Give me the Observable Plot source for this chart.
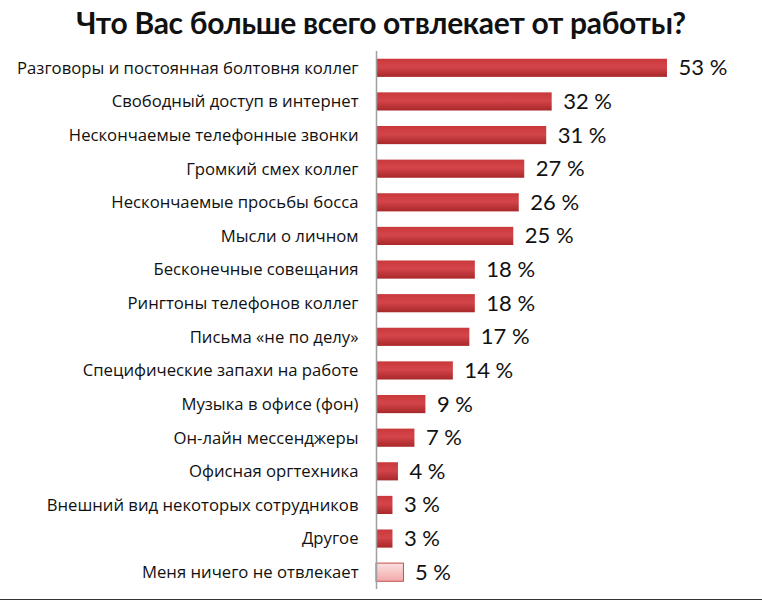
<!DOCTYPE html>
<html><head><meta charset="utf-8">
<script src="https://cdn.jsdelivr.net/npm/d3@7"></script>
<script src="https://cdn.jsdelivr.net/npm/@observablehq/plot@0.6"></script>
<style>
body{margin:0;background:#fff;}
#title{height:46px;line-height:44px;text-align:center;font-family:Lato,sans-serif;font-weight:bold;font-size:30px;color:#111;letter-spacing:-0.3px;overflow:hidden;white-space:nowrap;}
#chart{border-bottom:1px solid #333;width:762px;}
</style></head><body>
<div id="title">Что Вас больше всего отвлекает от работы?</div>
<div id="chart"></div>
<script>
const categories = [
  "Разговоры и постоянная болтовня коллег",
  "Свободный доступ в интернет",
  "Нескончаемые телефонные звонки",
  "Громкий смех коллег",
  "Нескончаемые просьбы босса",
  "Мысли о личном",
  "Бесконечные совещания",
  "Рингтоны телефонов коллег",
  "Письма «не по делу»",
  "Специфические запахи на работе",
  "Музыка в офисе (фон)",
  "Он-лайн мессенджеры",
  "Офисная оргтехника",
  "Внешний вид некоторых сотрудников",
  "Другое",
  "Меня ничего не отвлекает"
];
const values = [53, 32, 31, 27, 26, 25, 18, 18, 17, 14, 9, 7, 4, 3, 3, 5];
const groups = ["d","d","d","d","d","d","d","d","d","d","d","d","d","d","d","n"];

const data = categories.map((c, i) => ({cat: c, v: values[i], g: groups[i]}));

const chart = Plot.plot({
  width: 762,
  height: 553,
  marginLeft: 376,
  marginRight: 95,
  marginTop: 5,
  marginBottom: 10,
  style: {fontFamily: "'Open Sans', sans-serif", background: "#fff"},
  x: {domain: [0, 53], axis: null},
  y: {domain: categories, paddingInner: 0.46, paddingOuter: 0.23, round: false, label: null, axis: null},
  marks: [
    Plot.barX(data, {x: "v", y: "cat", fill: d => d.g === "n" ? "url(#gPink)" : "url(#gRed)", stroke: d => d.g === "n" ? "#c0504d" : "none", strokeWidth: 1}),
    Plot.ruleX([0], {stroke: "#a0a0a0", strokeWidth: 1.5}),
    Plot.text(data, {x: "v", y: "cat", text: d => d.v + " %", textAnchor: "start", dx: 11, fontSize: 22, fontFamily: "Lato, sans-serif", fill: "#111"}),
    Plot.axisY({tickSize: 0, tickPadding: 18, fontSize: 16.7, label: null, color: "#111"})
  ]
});

const defs = d3.select(chart).insert("defs", ":first-child");
const gr = defs.append("linearGradient").attr("id", "gRed").attr("x1", 0).attr("y1", 0).attr("x2", 0).attr("y2", 1);
gr.append("stop").attr("offset", "0%").attr("stop-color", "#c9393b");
gr.append("stop").attr("offset", "45%").attr("stop-color", "#d4454a");
gr.append("stop").attr("offset", "100%").attr("stop-color", "#a8282a");
const gp = defs.append("linearGradient").attr("id", "gPink").attr("x1", 0).attr("y1", 0).attr("x2", 0).attr("y2", 1);
gp.append("stop").attr("offset", "0%").attr("stop-color", "#fbe0e0");
gp.append("stop").attr("offset", "100%").attr("stop-color", "#f2a8a8");

document.getElementById("chart").appendChild(chart);
</script>
</body></html>
